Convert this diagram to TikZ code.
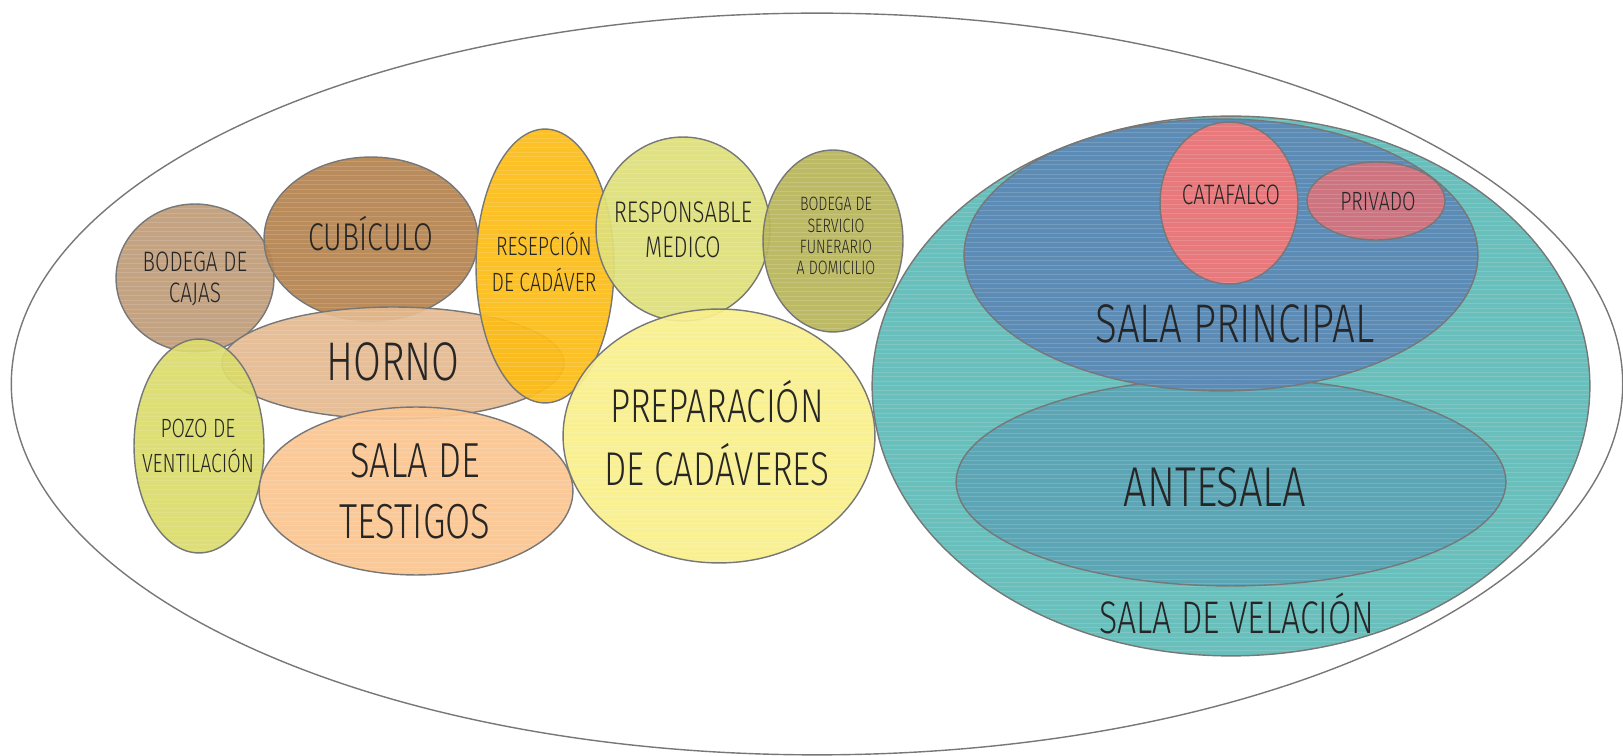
\documentclass[tikz,border=0pt]{standalone}
\usepackage{fontspec}
\newfontfamily\handfont{Fira Sans}[UprightFont=* Light, FakeStretch=0.74]
\usetikzlibrary{shapes.geometric}
\definecolor{rim}{HTML}{777777}
\definecolor{ink}{HTML}{262626}
\definecolor{cajasc}{HTML}{BF9C7A}
\definecolor{cubic}{HTML}{B5834F}
\definecolor{hornoc}{HTML}{E4B98F}
\definecolor{pozoc}{HTML}{DADB6A}
\definecolor{testc}{HTML}{FAC58F}
\definecolor{recepc}{HTML}{FCBC16}
\definecolor{medc}{HTML}{DEDF78}
\definecolor{servc}{HTML}{B8B55A}
\definecolor{prepc}{HTML}{F8EF8A}
\definecolor{velc}{HTML}{5DBAB6}
\definecolor{princ}{HTML}{5B89B7}
\definecolor{antec}{HTML}{5AA4B5}
\definecolor{catc}{HTML}{F27777}
\definecolor{privc}{HTML}{D6737E}

\begin{document}
\begin{tikzpicture}[
  x=0.02cm, y=-0.02cm,
  room/.style={ellipse, draw=rim, line width=0.8pt, fill opacity=0.93, inner sep=0pt, streaks},
  dims/.style 2 args={minimum width=#1*0.04cm, minimum height=#2*0.04cm},
  lbl/.style 2 args={align=center, text=ink, inner sep=0pt, font=\handfont\fontsize{#1}{#2}\selectfont},
  streaks/.style={path picture={
    \foreach \k in {1,...,120}
      \draw[white, opacity=.15, line width=.4pt]
        ([yshift=-\k*2.6pt]path picture bounding box.north west) -- ([yshift=-\k*2.6pt]path picture bounding box.north east);
  }}
]
\useasboundingbox (0,0) rectangle (1623,756);
\node[ellipse, draw=rim, line width=0.8pt, inner sep=0pt, dims={806}{371}] (recinto) at (817,384) {};

\node[room, fill=cajasc, dims={79}{74}] (cajas) at (195,278) {};
\node[room, fill=cubic, dims={107}{82}] (cubiculo) at (371,239) {};
\node[room, fill=hornoc, dims={171}{56}] (horno) at (393,363) {};
\node[room, fill=pozoc, dims={65}{107}] (pozo) at (199,446) {};
\node[room, fill=testc, dims={157}{84}] (testigos) at (416,491) {};
\node[room, fill=recepc, dims={69}{137}] (recepcion) at (545,266) {};
\node[room, fill=medc, dims={87}{92}] (medico) at (683,229) {};
\node[room, fill=servc, dims={70}{91}] (servicio) at (833,241) {};
\node[room, fill=prepc, dims={156}{127}] (preparacion) at (719,436) {};
\node[room, fill=velc, dims={359}{270}] (velacion) at (1231,386) {};
\node[room, fill=antec, dims={275}{104}] (antesala) at (1231,482) {};
\node[room, fill=princ, dims={257}{136}] (principal) at (1221,255) {};
\node[room, fill=catc, dims={69}{81}] (catafalco) at (1229,203) {};
\node[room, fill=privc, dims={69}{39}] (privado) at (1376,201) {};

\node[lbl={16pt}{18pt}] (t-cajas) at (195,279) {BODEGA DE\\CAJAS};
\node[lbl={22pt}{26pt}] (t-cubiculo) at (371,234) {CUBÍCULO};
\node[lbl={31pt}{36pt}] (t-horno) at (393,362) {HORNO};
\node[lbl={15pt}{20pt}] (t-pozo) at (198,446) {POZO DE\\VENTILACIÓN};
\node[lbl={28pt}{35pt}] (t-testigos) at (415,491) {SALA DE\\TESTIGOS};
\node[lbl={15pt}{20pt}] (t-recepcion) at (544,262) {RESEPCIÓN\\DE CADÁVER};
\node[lbl={17pt}{20pt}] (t-medico) at (683,230) {RESPONSABLE\\MEDICO};
\node[lbl={11pt}{12pt}] (t-servicio) at (836,236) {BODEGA DE\\SERVICIO\\FUNERARIO\\A DOMICILIO};
\node[lbl={27pt}{36pt}] (t-preparacion) at (717,433) {PREPARACIÓN\\DE CADÁVERES};
\node[lbl={31pt}{40pt}] (t-principal) at (1235,324) {SALA PRINCIPAL};
\node[lbl={32pt}{36pt}] (t-antesala) at (1215,487) {ANTESALA};
\node[lbl={26pt}{30pt}] (t-velacion) at (1237,613) {SALA DE VELACIÓN};
\node[lbl={16pt}{18pt}] (t-catafalco) at (1231,195) {CATAFALCO};
\node[lbl={15pt}{18pt}] (t-privado) at (1378,201) {PRIVADO};
\end{tikzpicture}
\end{document}
